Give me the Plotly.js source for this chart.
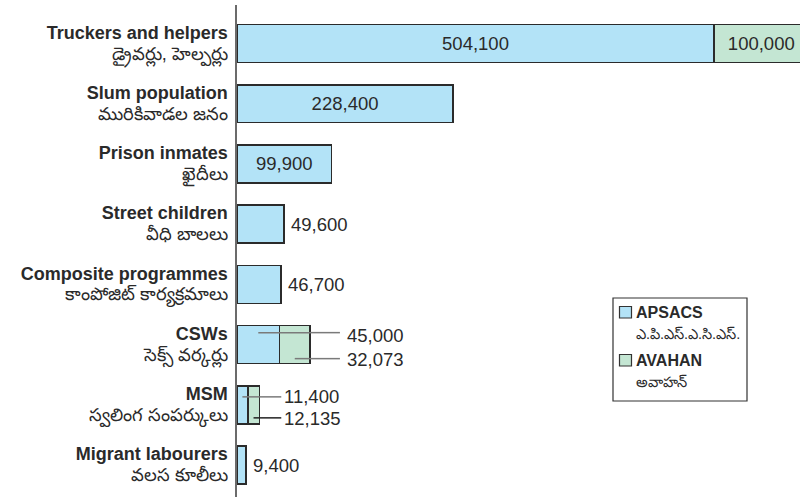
<!DOCTYPE html>
<html>
<head>
<meta charset="utf-8">
<script src="https://cdn.plot.ly/plotly-3.0.1.min.js"></script>
<style>
html,body{margin:0;padding:0;background:#fff;}
#chart{width:800px;height:497px;}
</style>
</head>
<body>
<div id="chart"></div>
<script>
// ---- data ----
const categories = ["Truckers and helpers", "Slum population", "Prison inmates", "Street children", "Composite programmes", "CSWs", "MSM", "Migrant labourers"];
const categoriesTe = ["డ్రైవర్లు, హెల్పర్లు", "మురికివాడల జనం", "ఖైదీలు", "వీధి బాలలు", "కాంపోజిట్ కార్యక్రమాలు", "సెక్స్ వర్కర్లు", "స్వలింగ సంపర్కులు", "వలస కూలీలు"];
const apsacs = [504100, 228400, 99900, 49600, 46700, 45000, 11400, 9400];
const avahan = [100000, null, null, null, null, 32073, 12135, null];
const seriesNames = ["APSACS", "AVAHAN"];
const seriesNamesTe = ["ఎ.పి.ఎస్.ఎ.సి.ఎస్.", "అవాహన్"];

// ---- styling ----
const FONT = '"Liberation Sans", Arial, "Noto Sans", sans-serif';
const TXT = '#2a2a2a';
const colA = '#b3e3f7';
const colB = '#c4e6d3';
const colors = [colA, colB];
const edge = '#2b2b2b';
const fmt = v => v.toLocaleString('en-US');

const W = 800, H = 497, ML = 237, MR = 0, MT = 5, MB = 0;
const px2x = px => (px - ML) / (W - ML - MR);
const px2y = py => 1 - (py - MT) / (H - MT - MB);

const leader = categories.map((c, i) => avahan[i] != null && (apsacs[i] + avahan[i]) < 200000);
const insideA = apsacs.map((v, i) => !leader[i] && v > 90000);

const textA = apsacs.map((v, i) => insideA[i] ? fmt(v) : '');
const posA = apsacs.map((v, i) => insideA[i] ? 'inside' : 'none');
const textB = avahan.map((v, i) => (v == null || leader[i]) ? '' : fmt(v));
const posB = avahan.map((v, i) => (v == null || leader[i]) ? 'none' : 'inside');

const traces = [
  {
    type: 'bar', orientation: 'h', name: seriesNames[0],
    y: categories, x: apsacs, width: 0.63,
    marker: {color: colA, line: {color: edge, width: 1.5}},
    text: textA, textposition: posA, insidetextanchor: 'middle',
    textfont: {family: FONT, size: 18.5, color: TXT}, constraintext: 'none',
    hoverinfo: 'x+y'
  },
  {
    type: 'bar', orientation: 'h', name: seriesNames[1],
    y: categories, x: avahan, width: 0.63,
    marker: {color: colB, line: {color: edge, width: 1.5}},
    text: textB, textposition: posB, insidetextanchor: 'middle',
    textfont: {family: FONT, size: 18.5, color: TXT}, constraintext: 'none',
    hoverinfo: 'x+y'
  }
];

const shapes = [];
const annotations = [];

// outside value labels for short single bars
categories.forEach((c, i) => {
  if (leader[i] || insideA[i]) return;
  annotations.push({xref: 'x', yref: 'y', x: apsacs[i], y: c, xshift: 5, xanchor: 'left', yanchor: 'middle',
    showarrow: false, text: fmt(apsacs[i]), font: {family: FONT, size: 18.5, color: TXT}});
});

// leader lines + labels for small stacked bars
categories.forEach((c, i) => {
  if (!leader[i]) return;
  const total = apsacs[i] + avahan[i];
  const big = total > 50000;
  const lineExt = big ? 30 : 22;
  const lblShift = big ? 35 : 23;
  const offA = big ? 12 : 8;
  const offB = big ? 14 : 13;
  const segs = [
    {mid: apsacs[i] / 2, off: offA, val: apsacs[i], col: '#7a7a7a', tOff: big ? 9 : 8},
    {mid: apsacs[i] + avahan[i] / 2, off: -offB, val: avahan[i], col: big ? '#7a7a7a' : '#222', tOff: big ? -15 : -14}
  ];
  segs.forEach(s => {
    shapes.push({type: 'line', xref: 'x', yref: 'y', ysizemode: 'pixel', yanchor: c,
      x0: s.mid, x1: total, y0: s.off, y1: s.off, line: {color: s.col, width: 1.5}});
    shapes.push({type: 'line', xref: 'x', yref: 'y', xsizemode: 'pixel', xanchor: total,
      ysizemode: 'pixel', yanchor: c, x0: 0, x1: lineExt, y0: s.off, y1: s.off, line: {color: s.col, width: 1.5}});
    annotations.push({xref: 'x', yref: 'y', x: total, y: c, xshift: lblShift, yshift: s.tOff,
      xanchor: 'left', yanchor: 'middle', showarrow: false, text: fmt(s.val),
      font: {family: FONT, size: 18.5, color: TXT}});
  });
});

// legend box (drawn manually to match the reference layout)
shapes.push({type: 'rect', xref: 'paper', yref: 'paper', x0: px2x(613), x1: px2x(747), y0: px2y(298), y1: px2y(401),
  line: {color: '#333', width: 1.2}, fillcolor: '#fff', layer: 'above'});
seriesNames.forEach((n, k) => {
  const top = 306.5 + k * 48;
  shapes.push({type: 'rect', xref: 'paper', yref: 'paper', x0: px2x(619.5), x1: px2x(631.5), y0: px2y(top), y1: px2y(top + 11.5),
    line: {color: '#333', width: 1.2}, fillcolor: colors[k], layer: 'above'});
  annotations.push({xref: 'paper', yref: 'paper', x: px2x(634), y: px2y(top + 6), xanchor: 'left', yanchor: 'middle',
    showarrow: false, text: '<b>' + n + '</b>', font: {family: FONT, size: 16, color: TXT}});
  annotations.push({xref: 'paper', yref: 'paper', x: px2x(634), y: px2y(top + 27), xanchor: 'left', yanchor: 'middle',
    showarrow: false, text: seriesNamesTe[k], font: {family: FONT, size: 14.5, color: TXT}});
});

const layout = {
  width: W, height: H,
  margin: {l: ML, r: MR, t: MT, b: MB, pad: 0},
  paper_bgcolor: '#fff', plot_bgcolor: '#fff',
  barmode: 'stack',
  font: {family: FONT, color: TXT},
  xaxis: {range: [0, 595000], visible: false, fixedrange: true},
  yaxis: {
    type: 'category', categoryorder: 'array', categoryarray: categories,
    range: [7.53, -0.64],
    tickvals: categories,
    ticktext: categories.map((c, i) => '<b><span style="font-size:18px">' + c + '</span></b><br><span style="font-size:18px">' + categoriesTe[i] + '</span>'),
    tickfont: {family: FONT, size: 16, color: TXT},
    showline: true, linecolor: '#6b6b6b', linewidth: 2,
    showgrid: false, zeroline: false, ticks: '', ticklabelstandoff: 4,
    automargin: false
  },
  showlegend: false,
  shapes: shapes,
  annotations: annotations
};

Plotly.newPlot('chart', traces, layout, {displayModeBar: false, staticPlot: true});
</script>
</body>
</html>
